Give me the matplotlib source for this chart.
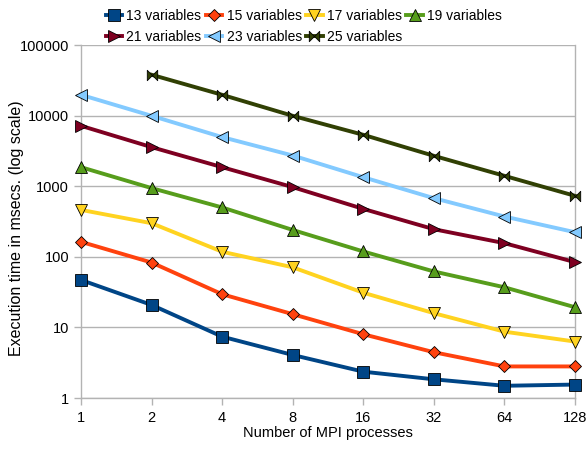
import matplotlib
matplotlib.use('Agg')
import matplotlib.pyplot as plt
from matplotlib.path import Path

plt.rcParams['font.family'] = ['Liberation Sans Narrow', 'Liberation Sans', 'DejaVu Sans']

procs = ['1', '2', '4', '8', '16', '32', '64', '128']

t13 = [47, 20.8, 7.4, 4.07, 2.36, 1.84, 1.49, 1.55]
t15 = [163, 83, 29.5, 15.4, 8.0, 4.45, 2.8, 2.8]
t17 = [462, 299, 118, 71, 31, 15.9, 8.7, 6.3]
t19 = [1860, 940, 500, 240, 119, 62, 37, 19.3]
t21 = [7170, 3575, 1860, 970, 477, 246, 156, 84]
t23 = [19700, 9930, 4960, 2720, 1340, 677, 372, 223]
t25 = [None, 37900, 19700, 9930, 5345, 2693, 1402, 730]

# bow tie marker (two triangles pointing inward)
bowtie = Path([(-1, -1), (-1, 1), (0, 0), (1, 1), (1, -1), (0, 0), (-1, -1)],
              [Path.MOVETO, Path.LINETO, Path.LINETO, Path.LINETO,
               Path.LINETO, Path.LINETO, Path.CLOSEPOLY])

series = [
    ('13 variables', t13, '#004586', 's', 8),
    ('15 variables', t15, '#ff420e', 'D', 6.5),
    ('17 variables', t17, '#ffd320', 'v', 8.5),
    ('19 variables', t19, '#579d1c', '^', 8.5),
    ('21 variables', t21, '#7e0021', '>', 8.5),
    ('23 variables', t23, '#83caff', '<', 8.5),
    ('25 variables', t25, '#314004', bowtie, 7.5),
]

fig = plt.figure(figsize=(5.87, 4.51), dpi=100)
ax = fig.add_axes([0.138, 0.1175, 0.8416, 0.7827])

lines = []
for name, vals, col, mk, ms in series:
    xs = [i for i, v in enumerate(vals) if v is not None]
    ys = [v for v in vals if v is not None]
    l, = ax.plot(xs, ys, color=col, lw=2.8, marker=mk, ms=ms, mfc=col,
                 mec='black', mew=0.6, label=name, solid_joinstyle='round',
                 clip_on=False, zorder=3)
    lines.append(l)

ax.set_yscale('log')
ax.set_ylim(1, 100000)
ax.set_xlim(0, 7)
ax.set_xticks(range(len(procs)))
ax.set_xticklabels(procs)
ax.set_yticks([1, 10, 100, 1000, 10000, 100000])
ax.set_yticklabels(['1', '10', '100', '1000', '10000', '100000'])
ax.minorticks_off()
ax.yaxis.grid(True, color='#b3b3b3', lw=1)
for s in ['left', 'right', 'bottom']:
    ax.spines[s].set_color('#b3b3b3')
    ax.spines[s].set_linewidth(1)
ax.spines['top'].set_visible(False)
ax.tick_params(axis='both', colors='#b3b3b3', labelcolor='black', labelsize=10.5,
               length=5, width=1)
ax.tick_params(axis='x', pad=4)
ax.set_xlabel('Number of MPI processes', fontsize=10.5, labelpad=1)
ax.set_ylabel('Execution time in msecs. (log scale)', fontsize=11.5,
              family=['Liberation Sans', 'DejaVu Sans'])
ax.yaxis.set_label_coords(-0.115, 0.48)

# legend filled row by row: 13 15 17 19 / 21 23 25
order = [0, 4, 1, 5, 2, 6, 3]
fig.legend([lines[i] for i in order], [series[i][0] for i in order],
           loc='upper left', bbox_to_anchor=(0.18, 0.98), ncol=4, frameon=False,
           fontsize=10, handlelength=1.2, handletextpad=0.3, columnspacing=0.3,
           labelspacing=0.5, borderpad=0, borderaxespad=0)

fig.savefig('out.png', dpi=100)
